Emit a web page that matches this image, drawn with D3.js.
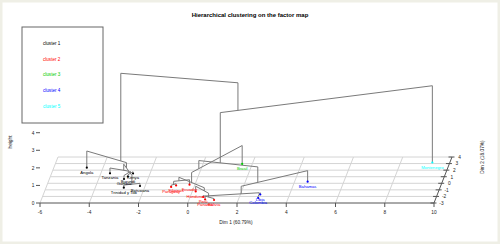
<!DOCTYPE html>
<html>
<head>
<meta charset="utf-8">
<script src="https://cdn.jsdelivr.net/npm/d3@7"></script>
<style>
  body { margin: 0; background: #fff; }
  text { font-family: "Liberation Sans", Arial, sans-serif; }
</style>
</head>
<body>
<div id="chart"></div>
<script>
// individuals (coordinates on the factor map)
const names = ['Angola', 'Tanzania', 'Kenya', 'Burundi', 'Gambia', 'Trinidad y Tob', 'Botswana',
  'Paraguay', 'Filipinas', 'Ecuador', 'Honduras', 'Perú', 'Panamá', 'Bolivia',
  'Brasil', 'Libia', 'Colombia', 'Bahamas', 'Montenegro']
const dim1 = [-4.66, -3.63, -2.69, -2.85, -2.97, -2.84, -2.21,
  -0.93, -0.75, -0.22, 0.14, 0.53, 0.65, 1.02,
  1.59, 2.81, 2.78, 4.53, 9.29]
const dim2 = [2.37, 1.52, 1.49, 1.03, 0.65, -0.67, -0.41,
  -0.56, -0.34, -0.21, -1.25, -2.09, -2.47, -2.54,
  2.94, -1.71, -2.24, 0.24, 3.16]
const clusterOf = [1, 1, 1, 1, 1, 1, 1, 2, 2, 2, 2, 2, 2, 2, 3, 4, 4, 4, 5]

// hclust style merges: negative = individual, positive = earlier merge (1-based)
const mergeA = [-3, -5, -2, -6, 3, -1, -8, -10, -12, -11, 8, 11, -16, -13, 14, 12, 16, 6]
const mergeB = [-4, 1, 2, -7, 4, 5, -9, 7, -14, 9, 10, -15, -17, 13, -18, 15, -19, 17]
const mergeHeight = [0.10, 0.20, 0.30, 0.15, 0.65, 0.95, 0.10, 0.28, 0.08, 0.30, 0.48, 1.05,
  0.10, 0.20, 0.63, 1.51, 4.37, 5.94]

const clusterNames = ['cluster 1', 'cluster 2', 'cluster 3', 'cluster 4', 'cluster 5']
const clusterColors = ['#000000', '#ff0000', '#00cd00', '#0000ff', '#00ffff']

const dim1Ticks = [-6, -4, -2, 0, 2, 4, 6, 8, 10]
const dim2Ticks = [-3, -2, -1, 0, 1, 2, 3, 4]
const heightTicks = [0, 1, 2, 3, 4, 5, 6, 7]

const width = 500, height = 244

const svg = d3.select('#chart')
  .append('svg')
    .attr('width', width)
    .attr('height', height)

svg.append('rect')
  .attr('x', 0).attr('y', 0)
  .attr('width', width).attr('height', height)
  .attr('fill', '#fff')
  .attr('stroke', '#efefe6')
  .attr('stroke-width', 5)

// scatterplot3d-like projection
const xScale = d3.scaleLinear().domain([-6, 10]).range([40, 434])
const depth = d3.scaleLinear().domain([-3, 4]).range([0, 1])
const zScale = d3.scaleLinear().domain([0, 7]).range([0, 123])
const baseY = 203, depthDx = 18, depthDy = 46

const proj = (x, y, z) => [
  xScale(x) + depth(y) * depthDx,
  baseY - depth(y) * depthDy - zScale(z)
]

const seg = (g, a, b, color, w) => g.append('line')
  .attr('x1', a[0]).attr('y1', a[1])
  .attr('x2', b[0]).attr('y2', b[1])
  .attr('stroke', color)
  .attr('stroke-width', w || 1)

// grid on the floor
const grid = svg.append('g')
dim2Ticks.slice(1).forEach(d => seg(grid, proj(-6, d, 0), proj(10, d, 0), '#d4d4d4'))
dim1Ticks.slice(0, -1).forEach(d => seg(grid, proj(d, -3, 0), proj(d, 4, 0), '#d4d4d4'))

// axes
const axes = svg.append('g').attr('font-size', 4.8).attr('fill', '#222')
seg(axes, proj(-6, -3, 0), proj(10, -3, 0), '#555')
dim1Ticks.forEach(d => {
  const p = proj(d, -3, 0)
  seg(axes, p, [p[0], p[1] + 4], '#555')
  axes.append('text').attr('x', p[0]).attr('y', p[1] + 11)
    .attr('text-anchor', 'middle').text(d)
})
seg(axes, proj(10, -3, 0), proj(10, 4, 0), '#555')
dim2Ticks.forEach(d => {
  const p = proj(10, d, 0)
  seg(axes, [p[0] - 3.5, p[1]], [p[0] + 2.5, p[1]], '#555')
  axes.append('text').attr('x', p[0] + 7.5).attr('y', p[1] + 1.8)
    .attr('text-anchor', 'middle').text(d)
})
heightTicks.forEach(d => {
  const p = proj(-6, -3, d)
  seg(axes, [p[0] - 4, p[1]], p, '#555')
  axes.append('text').attr('x', p[0] - 7).attr('y', p[1] + 1.8)
    .attr('text-anchor', 'middle').text(d)
})

axes.append('text')
  .attr('transform', `translate(12, 142) rotate(-90)`)
  .attr('text-anchor', 'middle').text('height')
axes.append('text')
  .attr('x', 236).attr('y', 224)
  .attr('text-anchor', 'middle').text('Dim 1 (60.79%)')
axes.append('text')
  .attr('transform', `translate(484, 157) rotate(-90)`)
  .attr('text-anchor', 'middle').text('Dim 2 (18.07%)')

// dendrogram: nodes sit at the centre of gravity of their individuals
const tree = svg.append('g')
const nodes = []
const child = k => k < 0
  ? { x: dim1[-k - 1], y: dim2[-k - 1], h: 0, n: 1 }
  : nodes[k - 1]

mergeHeight.forEach((H, i) => {
  const a = child(mergeA[i]), b = child(mergeB[i])
  seg(tree, proj(a.x, a.y, a.h), proj(a.x, a.y, H), '#7a7a7a')
  seg(tree, proj(b.x, b.y, b.h), proj(b.x, b.y, H), '#7a7a7a')
  seg(tree, proj(a.x, a.y, H), proj(b.x, b.y, H), '#7a7a7a')
  const n = a.n + b.n
  nodes.push({ x: (a.x * a.n + b.x * b.n) / n, y: (a.y * a.n + b.y * b.n) / n, h: H, n })
})

// individuals
const ind = svg.append('g')
names.forEach((name, i) => {
  const p = proj(dim1[i], dim2[i], 0)
  const col = clusterColors[clusterOf[i] - 1]
  ind.append('circle').attr('cx', p[0]).attr('cy', p[1]).attr('r', 1.1).attr('fill', col)
  ind.append('text').attr('x', p[0]).attr('y', p[1] + 6)
    .attr('text-anchor', 'middle').attr('font-size', 4.2).attr('fill', col).text(name)
})

// legend
const legend = svg.append('g')
legend.append('rect')
  .attr('x', 22).attr('y', 27).attr('width', 81).attr('height', 96)
  .attr('fill', '#fff').attr('stroke', '#666')
clusterNames.forEach((c, i) => {
  legend.append('text')
    .attr('x', 43).attr('y', 45 + i * 15.7)
    .attr('font-size', 4.6)
    .attr('fill', clusterColors[i])
    .text(c)
})

// title
svg.append('text')
  .attr('x', 250).attr('y', 17)
  .attr('text-anchor', 'middle')
  .attr('font-size', 6)
  .attr('font-weight', 'bold')
  .text('Hierarchical clustering on the factor map')
</script>
</body>
</html>
